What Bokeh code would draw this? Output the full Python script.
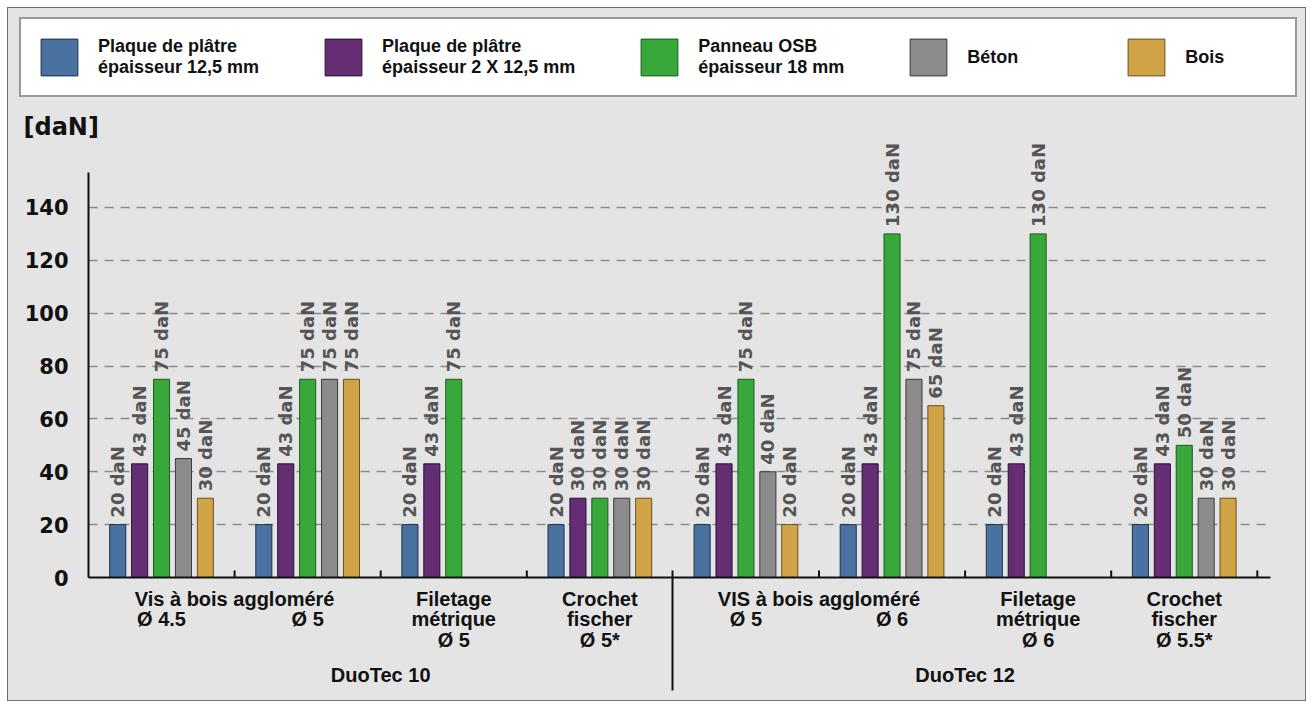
import math
from bokeh.plotting import figure
from bokeh.layouts import column
from bokeh.models import (ColumnDataSource, Range1d, FixedTicker, LabelSet, Title,
                          Legend, LegendItem, LinearAxis)
from bokeh.transform import dodge
from bokeh.core.properties import value
from bokeh.embed import file_html
from bokeh.resources import INLINE

# ---------------- data ----------------
categories = ["Vis à bois aggloméré Ø 4.5", "Vis à bois aggloméré Ø 5",
              "Filetage métrique Ø 5", "Crochet fischer Ø 5*",
              "VIS à bois aggloméré Ø 5", "VIS à bois aggloméré Ø 6",
              "Filetage métrique Ø 6", "Crochet fischer Ø 5.5*"]
family = ["DuoTec 10"] * 4 + ["DuoTec 12"] * 4
families = ["DuoTec 10", "DuoTec 12"]

# tick label of every category (line by line)
category_labels = ["\u00a0\nØ 4.5", "\u00a0\nØ 5", "Filetage\nmétrique\nØ 5",
                   "Crochet\nfischer\nØ 5*", "\u00a0\nØ 5", "\u00a0\nØ 6",
                   "Filetage\nmétrique\nØ 6", "Crochet\nfischer\nØ 5.5*"]
shared_names = ["Vis à bois aggloméré", "VIS à bois aggloméré"]
shared_members = [(0, 1), (4, 5)]

series_names = ["Plaque de plâtre\népaisseur 12,5 mm",
                "Plaque de plâtre\népaisseur 2 X 12,5 mm",
                "Panneau OSB\népaisseur 18 mm",
                "Béton",
                "Bois"]
plaque_12_5 = [20, 20, 20, 20, 20, 20, 20, 20]
plaque_2x12_5 = [43, 43, 43, 30, 43, 43, 43, 43]
panneau_osb_18 = [75, 75, 75, 30, 75, 130, 130, 50]
beton = [45, 75, None, 30, 40, 75, None, 30]
bois = [30, 75, None, 30, 20, 65, None, 30]
series_values = [plaque_12_5, plaque_2x12_5, panneau_osb_18, beton, bois]

y_ticks = [0, 20, 40, 60, 80, 100, 120, 140]
y_axis_top = 153.2
unit = "daN"

# ---------------- style ----------------
colors = ["#4a72a0", "#652d74", "#38a83b", "#8b8b8b", "#d0a347"]
edges = ["#1f2f45", "#2a1133", "#1d5a20", "#3a3a3a", "#6a5020"]
offsets = [-0.30, -0.15, 0.0, 0.15, 0.30]
BAR_W = 0.11
BG = "#e4e4e4"
INK = "#111111"

W = 1297
H_LEG = 100
H = 592
ML, MR, MT, MB = 80, 35, 32, 123
FRAME_W = W - ML - MR
FRAME_H = H - MT - MB
PPU_X = 146.1
PPU_Y = 2.643
X_END = FRAME_W / PPU_X
Y_END = FRAME_H / PPU_Y

p = figure(width=W, height=H, x_range=Range1d(0, X_END), y_range=Range1d(0, Y_END),
           output_backend="svg", toolbar_location=None, title=None,
           min_border_left=ML, min_border_right=MR, min_border_top=MT, min_border_bottom=MB,
           background_fill_color=BG, border_fill_color=BG, outline_line_color=None)
p.frame_align = False

n = len(categories)
centers = [i + 0.5 for i in range(n)]
div = [i for i in range(1, n) if family[i] != family[i - 1]]
bounds = [i for i in range(1, n + 1) if i not in div]

# x axis: category labels, divider between families
shared_x = [sum(m) / len(m) + 0.5 for m in shared_members]
xa = p.xaxis[0]
xa.ticker = FixedTicker(ticks=centers + shared_x, minor_ticks=div)
overrides = {c: t for c, t in zip(centers, category_labels)}
overrides.update({x: t for x, t in zip(shared_x, shared_names)})
xa.major_label_overrides = overrides
xa.axis_line_width = 2
xa.axis_line_color = INK
xa.major_tick_in = 0
xa.major_tick_out = 0
xa.major_tick_line_color = None
xa.minor_tick_in = 7
xa.minor_tick_out = 113
xa.minor_tick_line_width = 2
xa.minor_tick_line_color = INK
xa.major_label_text_font = "Liberation Sans"
xa.major_label_text_font_style = "bold"
xa.major_label_text_font_size = "20px"
xa.major_label_text_line_height = 0.95
xa.major_label_text_color = INK
xa.major_label_standoff = 10 - 113

# second x axis: product family
fam_x = []
for f in families:
    idx = [i for i, g in enumerate(family) if g == f]
    fam_x.append((idx[0] + idx[-1] + 1) / 2)
fa = LinearAxis(ticker=FixedTicker(ticks=fam_x),
                major_label_overrides={x: f for x, f in zip(fam_x, families)},
                axis_line_color=None, major_tick_line_color=None, minor_tick_line_color=None,
                major_tick_in=0, major_tick_out=0, minor_tick_in=0, minor_tick_out=0,
                major_label_text_font="Liberation Sans", major_label_text_font_style="bold",
                major_label_text_font_size="20px", major_label_text_color=INK,
                major_label_standoff=9)
p.add_layout(fa, "below")

# small boundary ticks pointing into the plot
p.segment(x0=bounds, y0=[0] * len(bounds), x1=bounds, y1=[7 / PPU_Y] * len(bounds),
          line_color=INK, line_width=2)

ya = p.yaxis[0]
ya.ticker = FixedTicker(ticks=y_ticks)
ya.bounds = (0, y_axis_top)
ya.axis_line_width = 2
ya.axis_line_color = INK
ya.major_tick_in = 0
ya.major_tick_out = 0
ya.minor_tick_in = 0
ya.minor_tick_out = 0
ya.major_label_text_font = "DejaVu Sans"
ya.major_label_text_font_style = "bold"
ya.major_label_text_font_size = "21px"
ya.major_label_text_color = INK
ya.major_label_standoff = 20

p.xgrid.visible = False
p.ygrid.ticker = FixedTicker(ticks=[t for t in y_ticks if t > 0])
p.ygrid.grid_line_color = "#8a8a8a"
p.ygrid.grid_line_dash = "9 7"
p.ygrid.grid_line_width = 1.5

# legend strip (own figure so the box is not clipped by the plot frame)
lf = figure(width=W, height=H_LEG, x_range=Range1d(0, 1), y_range=Range1d(0, 1),
            output_backend="svg", toolbar_location=None, title=None,
            x_axis_type=None, y_axis_type=None,
            min_border_left=0, min_border_right=0, min_border_top=0, min_border_bottom=0,
            background_fill_color=BG, border_fill_color=BG, outline_line_color=None)
lf.frame_align = False
lf.xgrid.visible = False
lf.ygrid.visible = False

# bars + value labels
gap = 7 / PPU_Y
items = []
for j, (name, vals) in enumerate(zip(series_names, series_values)):
    idx = [i for i, v in enumerate(vals) if v is not None]
    src = ColumnDataSource(dict(
        x=[centers[i] for i in idx],
        top=[vals[i] for i in idx],
        ly=[vals[i] + gap for i in idx],
        text=[f"{vals[i]} {unit}" for i in idx],
    ))
    p.vbar(x=dodge("x", offsets[j]), top="top", width=BAR_W, source=src,
           fill_color=colors[j], line_color=edges[j], line_width=1)
    p.add_layout(LabelSet(x=dodge("x", offsets[j]), y="ly", text="text", source=src,
                          angle=math.pi / 2, text_align="left", text_baseline="middle",
                          text_font=value("DejaVu Sans"), text_font_style="bold",
                          text_font_size="18px", text_color="#555555"))
    # hidden copy of the series in the legend strip, used only for its legend swatch
    lr = lf.vbar(x=dodge("x", offsets[j]), top="top", width=BAR_W, source=src,
                 fill_color=colors[j], line_color=edges[j], line_width=1)
    lr.visible = False
    items.append(LegendItem(label=name, renderers=[lr]))

legend = Legend(items=items, orientation="horizontal", location=(11, H_LEG - 89),
                glyph_width=46, glyph_height=46, label_standoff=16, spacing=61,
                label_width=95, padding=15, margin=0,
                label_text_font="Liberation Sans", label_text_font_style="bold",
                label_text_font_size="18px", label_text_line_height=1.3,
                label_text_color=INK, inactive_fill_alpha=0,
                border_line_color="#333333", border_line_width=2,
                background_fill_color="white", background_fill_alpha=1,
                click_policy="none")
lf.add_layout(legend)

# unit title
p.add_layout(Title(text=f"[{unit}]", text_font="DejaVu Sans", text_font_style="bold",
                   text_font_size="24px", text_color=INK, align="left", offset=-65,
                   standoff=0), "above")

layout = column(lf, p, spacing=0)
layout.styles = {"border": "1px solid #6f6f6f", "margin": "7px 0 0 7px",
                 "background-color": BG}

open("out.html", "w").write(file_html(layout, INLINE))
